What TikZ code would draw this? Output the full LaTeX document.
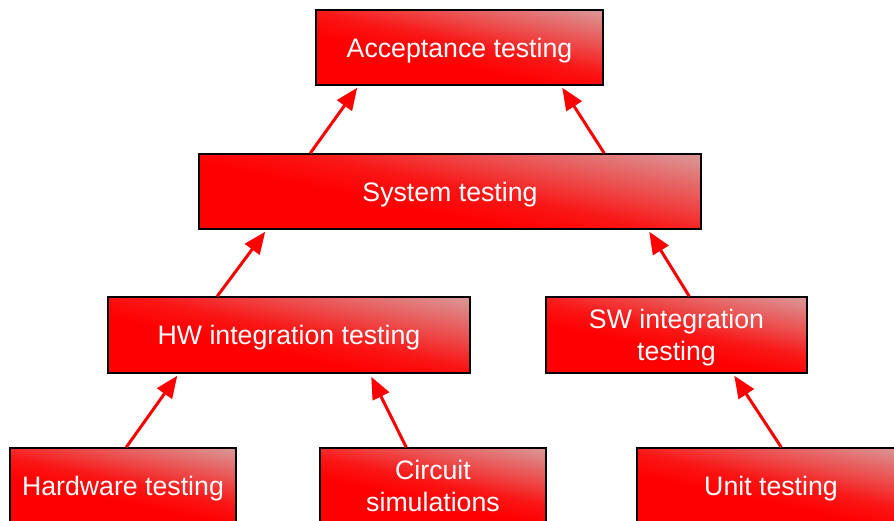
\documentclass[tikz,border=0pt]{standalone}
\usepackage{fontspec}
\setmainfont{Liberation Sans}
\usetikzlibrary{arrows.meta}
\definecolor{boxred}{RGB}{255,0,0}
\definecolor{boxlite}{RGB}{220,145,145}
\pgfdeclareverticalshading{redfade}{100bp}{color(0bp)=(boxred); color(42bp)=(boxred); color(52bp)=(boxred!85!boxlite); color(64bp)=(boxred!45!boxlite); color(78bp)=(boxlite); color(100bp)=(boxlite)}
\tikzset{
  testbox/.style={draw=black, line width=1.5pt, rectangle, text=white, align=center,
    inner sep=0pt, minimum height=75pt, text depth=0pt,
    font=\fontsize{26.7}{32}\selectfont,
    shading=redfade, shading angle=-12},
  uparrow/.style={draw=boxred, line width=3pt, -{Triangle[length=22pt,width=18pt]}}
}
\begin{document}
	\begin{tikzpicture}[x=1pt, y=-1pt]
		\useasboundingbox (0,0) rectangle (894,520);
		\begin{scope}
		\clip (0,0) rectangle (894,520);
		\node[testbox, minimum width=287pt] (acc) at (459.5,47.5) {Acceptance testing};
		\node[testbox, minimum width=502pt] (sys) at (450,191.5) {System testing};
		\node[testbox, minimum width=362pt, minimum height=76pt] (hw) at (289,335) {HW integration testing};
		\node[testbox, minimum width=261pt, minimum height=76pt] (sw) at (676.5,335) {SW integration\\testing};
		\node[testbox, minimum width=226pt] (hwt) at (123,485.5) {Hardware testing};
		\node[testbox, minimum width=226pt] (circ) at (433,485.5) {Circuit\\simulations};
		\node[testbox, minimum width=268pt] (unit) at (771,485.5) {Unit testing};
		\end{scope}
		\draw[uparrow] ([xshift=112pt]sys.north west) -- ([xshift=42pt, yshift=-2pt]acc.south west);
		\draw[uparrow] ([xshift=406pt]sys.north west) -- ([xshift=247pt, yshift=-2pt]acc.south west);
		\draw[uparrow] ([xshift=110pt]hw.north west) -- ([xshift=67pt, yshift=-2pt]sys.south west);
		\draw[uparrow] ([xshift=144pt]sw.north west) -- ([xshift=451pt, yshift=-2pt]sys.south west);
		\draw[uparrow] ([xshift=117pt]hwt.north west) -- ([xshift=70pt, yshift=-2pt]hw.south west);
		\draw[uparrow] ([xshift=87pt]circ.north west) -- ([xshift=264pt, yshift=-3pt]hw.south west);
		\draw[uparrow] ([xshift=145pt]unit.north west) -- ([xshift=189pt, yshift=-2pt]sw.south west);
	\end{tikzpicture}
\end{document}
